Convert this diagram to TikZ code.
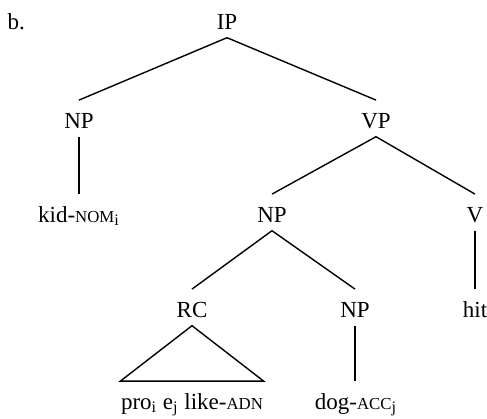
\documentclass[tikz,border=0pt]{standalone}
\usepackage{fontspec}
\setmainfont{Liberation Serif}
\newcommand\gl[1]{{\fontsize{8.4}{9}\selectfont #1}}
\def\wdpic{487}
\def\htpic{418}

\begin{document}
\begin{tikzpicture}[x=0.5pt, y=-0.5pt, line width=0.7pt,
  cat/.style={font=\fontsize{11.5}{13}\selectfont, anchor=base, inner xsep=0pt, inner ysep=4pt, text height=9.6pt, text depth=0pt}]
\useasboundingbox (0,0) rectangle (\wdpic,\htpic);
\node[cat, anchor=base west] (lbl) at (7,29) {b.};
\node[cat] (ip) at (227,29) {IP};
\node[cat] (np1) at (79,128) {NP};
\node[cat] (vp) at (376,128) {VP};
\node[cat] (kid) at (79,222) {kid-\gl{NOM}\textsubscript{i}};
\node[cat] (np2) at (272,222) {NP};
\node[cat] (v) at (475,222) {V};
\node[cat] (rc) at (192,317) {RC};
\node[cat] (np3) at (355,317) {NP};
\node[cat] (hit) at (475,317) {hit};
\node[cat] (pro) at (192,409) {pro\textsubscript{i} e\textsubscript{j} like-\gl{ADN}};
\node[cat] (dog) at (356,409) {dog-\gl{ACC}\textsubscript{j}};
\draw (ip.south) -- (np1.north);
\draw (ip.south) -- (vp.north);
\draw (np1.south) -- (np1.south |- kid.north);
\draw (vp.south) -- (np2.north);
\draw (vp.south) -- (v.north);
\draw (np2.south) -- (rc.north);
\draw (np2.south) -- (np3.north);
\draw (v.south) -- (hit.north);
\draw (np3.south) -- (np3.south |- dog.north);
\draw (rc.south) -- (pro.north west) -- (pro.north east) -- cycle;
\end{tikzpicture}
\end{document}
